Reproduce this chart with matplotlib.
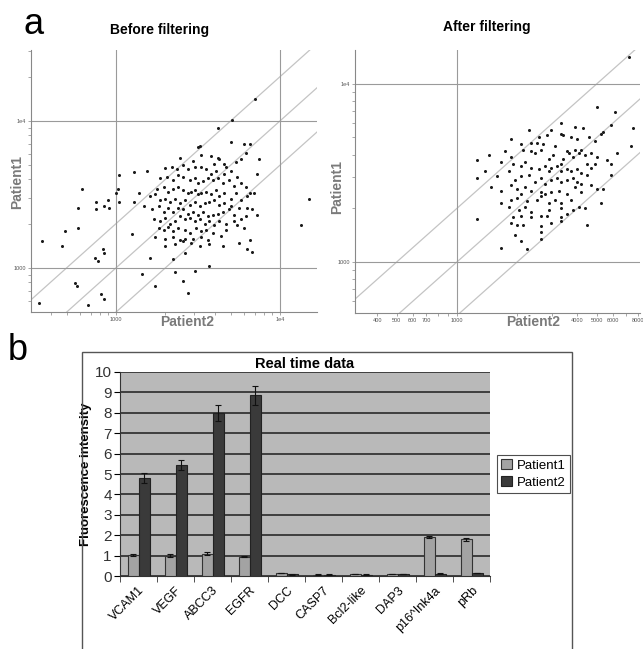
import numpy as np
import matplotlib
matplotlib.use("Agg")
import matplotlib.pyplot as plt
from matplotlib.patches import Rectangle
from matplotlib.ticker import FixedLocator, NullFormatter, LogLocator

plt.rcParams['font.family'] = ['Liberation Sans', 'DejaVu Sans']

# ---- panel a: log10 intensities ----
before_p2 = [3.51, 3.50, 3.70, 3.78, 3.19, 3.39, 3.47, 3.52, 3.58, 3.62, 3.63, 3.60, 3.66, 3.67, 3.73, 3.76, 3.79, 3.82, 3.87, 3.86,
             3.30, 3.34, 3.37, 3.41, 3.44, 3.48, 3.52, 3.55, 3.58, 3.61, 3.66, 3.70, 3.74, 3.76, 3.79, 3.82,
             3.27, 3.31, 3.35, 3.38, 3.41, 3.45, 3.48, 3.50, 3.53, 3.56, 3.59, 3.62, 3.65, 3.69, 3.72,
             3.25, 3.29, 3.32, 3.35, 3.38, 3.41, 3.44, 3.46, 3.48, 3.50, 3.52, 3.55, 3.58, 3.61, 3.63, 3.66, 3.70, 3.73, 3.76, 3.80, 3.84,
             3.21, 3.24, 3.27, 3.30, 3.33, 3.36, 3.39, 3.42, 3.45, 3.48, 3.51, 3.54, 3.57, 3.60, 3.63, 3.66, 3.70, 3.75, 3.80, 3.83, 3.86,
             3.17, 3.22, 3.26, 3.29, 3.32, 3.35, 3.38, 3.41, 3.44, 3.47, 3.50, 3.53, 3.56, 3.59, 3.62, 3.65, 3.69, 3.72, 3.76,
             3.23, 3.27, 3.30, 3.33, 3.36, 3.39, 3.42, 3.45, 3.48, 3.51, 3.54, 3.57, 3.60, 3.63, 3.67, 3.72, 3.79,
             3.26, 3.29, 3.32, 3.35, 3.38, 3.42, 3.45, 3.49, 3.52, 3.55, 3.59, 3.64, 3.74, 3.78,
             3.24, 3.30, 3.35, 3.39, 3.42, 3.47, 3.52, 3.56, 3.67, 3.75, 3.82,
             3.30, 3.36, 3.41, 3.46, 3.51, 3.57, 3.65, 3.80,
             3.85, 3.71, 3.62, 4.18, 4.13, 2.79, 2.77, 2.88, 2.88, 2.95, 2.93, 2.96, 3.01, 3.00, 3.02, 3.02, 3.11, 3.11, 3.14,
             2.77, 2.69, 2.67, 2.55, 2.92, 2.93, 2.87, 2.89, 3.10, 3.21, 3.16, 3.24, 2.75, 2.76, 2.53, 2.83, 2.91, 2.93,
             3.35, 3.36, 3.41, 3.44, 3.48, 3.57, 3.42, 3.83]
before_p1 = [3.83, 3.82, 3.86, 3.84, 3.66, 3.75, 3.73, 3.77, 3.76, 3.75, 3.74, 3.71, 3.71, 3.69, 3.72, 3.74, 3.78, 3.84, 3.74, 3.64,
             3.68, 3.69, 3.67, 3.70, 3.67, 3.69, 3.69, 3.67, 3.64, 3.66, 3.64, 3.66, 3.62, 3.58, 3.55, 3.51,
             3.61, 3.62, 3.60, 3.63, 3.62, 3.60, 3.61, 3.58, 3.59, 3.61, 3.60, 3.61, 3.58, 3.60, 3.56,
             3.54, 3.55, 3.52, 3.54, 3.55, 3.53, 3.51, 3.52, 3.53, 3.50, 3.51, 3.52, 3.50, 3.53, 3.49, 3.51, 3.47, 3.51, 3.46, 3.49, 3.51,
             3.49, 3.50, 3.46, 3.47, 3.45, 3.47, 3.44, 3.46, 3.43, 3.45, 3.42, 3.44, 3.45, 3.46, 3.43, 3.44, 3.42, 3.41, 3.41, 3.40, 3.36,
             3.42, 3.40, 3.42, 3.38, 3.41, 3.38, 3.41, 3.40, 3.37, 3.38, 3.36, 3.38, 3.35, 3.36, 3.37, 3.38, 3.40, 3.36, 3.33,
             3.33, 3.32, 3.34, 3.30, 3.32, 3.35, 3.33, 3.34, 3.32, 3.33, 3.30, 3.32, 3.29, 3.32, 3.30, 3.32, 3.35,
             3.27, 3.26, 3.28, 3.25, 3.27, 3.26, 3.24, 3.27, 3.25, 3.26, 3.24, 3.22, 3.29, 3.27,
             3.21, 3.20, 3.21, 3.19, 3.20, 3.20, 3.21, 3.19, 3.26, 3.17, 3.19,
             3.15, 3.16, 3.18, 3.17, 3.15, 3.16, 3.15, 3.13,
             4.15, 4.01, 3.95, 3.47, 3.29, 3.54, 3.41, 3.45, 3.40, 3.46, 3.42, 3.41, 3.54, 3.51, 3.63, 3.45, 3.65, 3.45, 3.51,
             3.27, 3.25, 3.15, 3.18, 3.13, 3.10, 3.07, 3.05, 3.23, 3.07, 2.96, 2.88, 2.90, 2.88, 2.76, 2.75, 2.82, 2.79,
             3.06, 2.97, 2.91, 2.83, 2.98, 3.01, 3.10, 3.11]

after_p2 = [3.70, 3.79, 3.88, 3.87, 3.52, 3.59, 3.63, 3.66, 3.69, 3.72, 3.73, 3.77,
            3.36, 3.41, 3.45, 3.47, 3.52, 3.53, 3.57, 3.60,
            3.27, 3.32, 3.37, 3.40, 3.43, 3.49, 3.55, 3.59, 3.62, 3.64, 3.67, 3.70, 3.75, 3.77, 3.80,
            3.24, 3.27, 3.33, 3.37, 3.39, 3.42, 3.46, 3.48, 3.52, 3.53, 3.56, 3.58, 3.61, 3.65, 3.69,
            3.10, 3.16, 3.14, 3.10, 3.22, 3.28, 3.32, 3.34, 3.37, 3.41, 3.44, 3.46, 3.47, 3.50, 3.52, 3.55, 3.57, 3.60, 3.62, 3.65, 3.67, 3.77,
            3.20, 3.26, 3.29, 3.32, 3.36, 3.39, 3.42, 3.44, 3.47, 3.50, 3.52, 3.55, 3.58, 3.60, 3.62, 3.67, 3.70, 3.73,
            3.17, 3.22, 3.27, 3.30, 3.34, 3.37, 3.42, 3.44, 3.47, 3.51, 3.55, 3.59, 3.62,
            3.22, 3.27, 3.30, 3.32, 3.35, 3.40, 3.42, 3.46, 3.49, 3.52, 3.57, 3.61, 3.64, 3.72,
            3.26, 3.31, 3.34, 3.37, 3.42, 3.46, 3.52, 3.55, 3.58,
            3.28, 3.32, 3.37, 3.45, 3.52,
            3.10, 3.27, 3.30, 3.33, 3.42, 3.47, 3.52, 3.65,
            3.42, 3.29, 3.32, 3.42, 3.35, 3.22, 3.86]
after_p1 = [3.87, 3.84, 3.75, 3.65, 3.78, 3.76, 3.75, 3.70, 3.68, 3.72, 3.73, 3.77,
            3.74, 3.70, 3.71, 3.74, 3.72, 3.71, 3.70, 3.69,
            3.69, 3.66, 3.67, 3.67, 3.66, 3.65, 3.62, 3.63, 3.63, 3.60, 3.61, 3.59, 3.57, 3.55, 3.61,
            3.62, 3.59, 3.63, 3.62, 3.61, 3.63, 3.58, 3.60, 3.55, 3.58, 3.61, 3.59, 3.61, 3.55, 3.55,
            3.57, 3.60, 3.51, 3.47, 3.56, 3.55, 3.54, 3.56, 3.53, 3.52, 3.54, 3.51, 3.53, 3.54, 3.51, 3.52, 3.51, 3.52, 3.50, 3.49, 3.53, 3.49,
            3.48, 3.51, 3.46, 3.48, 3.49, 3.45, 3.47, 3.44, 3.46, 3.47, 3.45, 3.46, 3.47, 3.45, 3.44, 3.43, 3.41, 3.41,
            3.42, 3.40, 3.43, 3.41, 3.42, 3.40, 3.39, 3.38, 3.39, 3.40, 3.38, 3.42, 3.39,
            3.33, 3.35, 3.36, 3.38, 3.34, 3.35, 3.37, 3.33, 3.35, 3.33, 3.35, 3.31, 3.30, 3.33,
            3.31, 3.29, 3.31, 3.28, 3.26, 3.29, 3.30, 3.27, 3.29,
            3.25, 3.26, 3.25, 3.26, 3.25,
            3.24, 3.22, 3.21, 3.21, 3.20, 3.22, 3.23, 3.21,
            3.17, 3.15, 3.12, 3.13, 3.07, 3.08, 4.15]

ratio_lines = [2.0, 1.0, 0.5]

# ---- panel b: real time data ----
genes = ["VCAM1", "VEGF", "ABCC3", "EGFR", "DCC", "CASP7", "Bcl2-like", "DAP3", "p16^Ink4a", "pRb"]
patient1 = [1.05, 1.0, 1.1, 0.95, 0.15, 0.07, 0.1, 0.1, 1.9, 1.8]
patient1_err = [0.05, 0.06, 0.07, 0.03, 0.02, 0.01, 0.01, 0.01, 0.05, 0.07]
patient2 = [4.8, 5.45, 8.0, 8.85, 0.08, 0.07, 0.07, 0.1, 0.12, 0.15]
patient2_err = [0.25, 0.25, 0.4, 0.45, 0.01, 0.01, 0.01, 0.01, 0.01, 0.01]

W, H = 643, 649
fig = plt.figure(figsize=(W / 100, H / 100), dpi=100)


def fx(px):
    return px / W


def fy(py):
    return 1 - py / H


def scatter_panel(rect, xs, ys, xlim, ylim, xgrid, ygrid, xticks, xlabels, yticks, ylabels):
    ax = fig.add_axes(rect)
    ax.set_xscale("log")
    ax.set_yscale("log")
    ax.set_xlim(10 ** xlim[0], 10 ** xlim[1])
    ax.set_ylim(10 ** ylim[0], 10 ** ylim[1])
    xx = np.logspace(xlim[0] - 1, xlim[1] + 1, 50)
    for r in ratio_lines:
        ax.plot(xx, r * xx, color="#c4c4c4", lw=0.9, zorder=1)
    for g in xgrid:
        ax.axvline(g, color="#9a9a9a", lw=0.8, zorder=1)
    for g in ygrid:
        ax.axhline(g, color="#9a9a9a", lw=0.8, zorder=1)
    ax.plot(10 ** np.array(xs), 10 ** np.array(ys), "o", ms=2.2, color="#1a1a1a", mec="none", zorder=3)
    for s in ["top", "right"]:
        ax.spines[s].set_visible(False)
    for s in ["left", "bottom"]:
        ax.spines[s].set_color("#888888")
    ax.xaxis.set_major_locator(FixedLocator(xticks))
    ax.set_xticklabels(xlabels)
    ax.yaxis.set_major_locator(FixedLocator(yticks))
    ax.set_yticklabels(ylabels)
    ax.xaxis.set_minor_locator(LogLocator(subs=np.arange(2, 10)))
    ax.xaxis.set_minor_formatter(NullFormatter())
    ax.yaxis.set_minor_locator(LogLocator(subs=np.arange(2, 10)))
    ax.yaxis.set_minor_formatter(NullFormatter())
    ax.tick_params(which="both", length=2, width=0.6, color="#999999", labelsize=4, labelcolor="#555555", pad=1.5)
    return ax


scatter_panel([fx(31), fy(312), fx(317) - fx(31), fy(50) - fy(312)],
              before_p2, before_p1, (2.482, 4.226), (2.70, 4.483),
              [1000, 10000], [1000, 10000],
              [1000, 10000], ["1000", "1e4"], [1000, 10000], ["1000", "1e4"])
scatter_panel([fx(355), fy(313), fx(640) - fx(355), fy(50) - fy(313)],
              after_p2, after_p1, (2.49, 3.915), (2.713, 4.19),
              [1000], [1000, 10000],
              [400, 500, 600, 700, 1000, 4000, 5000, 6000, 8000],
              ["400", "500", "600", "700", "1000", "4000", "5000", "6000", "8000"],
              [1000, 10000], ["1000", "1e4"])

fig.text(fx(34), fy(24), "a", fontsize=26, ha="center", va="center")
fig.text(fx(160), fy(30), "Before filtering", fontsize=10, fontweight="bold", ha="center", va="center")
fig.text(fx(487), fy(27), "After filtering", fontsize=10, fontweight="bold", ha="center", va="center")
for x, y in [(187, 322), (533, 322)]:
    fig.text(fx(x), fy(y), "Patient2", fontsize=10, fontweight="bold", color="#7a7a7a", ha="center", va="center")
for x, y in [(17, 182), (337, 187)]:
    fig.text(fx(x), fy(y), "Patient1", fontsize=10, fontweight="bold", color="#7a7a7a",
             ha="center", va="center", rotation=90)

# ---- panel b ----
fig.text(fx(18), fy(350), "b", fontsize=26, ha="center", va="center")
fig.patches.append(Rectangle((fx(82), fy(660)), fx(572) - fx(82), fy(352) - fy(660),
                             transform=fig.transFigure, fill=False, ec="#555555", lw=1.0))

ax = fig.add_axes([fx(120), fy(576), fx(490) - fx(120), fy(372) - fy(576)])
ax.set_facecolor("#b9b9b9")
x = np.arange(len(genes))
bw = 0.3
ax.bar(x - 0.14, patient1, bw, yerr=patient1_err, color="#a3a3a3", edgecolor="#333333", lw=0.8,
       capsize=2, error_kw=dict(lw=0.8, capthick=0.8, ecolor="#111111"), label="Patient1", zorder=3)
ax.bar(x + 0.16, patient2, bw, yerr=patient2_err, color="#3a3a3a", edgecolor="#222222", lw=0.8,
       capsize=2, error_kw=dict(lw=0.8, capthick=0.8, ecolor="#111111"), label="Patient2", zorder=3)
ax.set_xlim(-0.5, len(genes) - 0.5)
ax.set_ylim(0, 10)
ax.set_yticks(range(0, 11))
ax.yaxis.grid(True, color="#2a2a2a", lw=1.2, zorder=1)
ax.set_axisbelow(True)
for s in ["top", "right"]:
    ax.spines[s].set_visible(False)
ax.spines["left"].set_color("#333333")
ax.spines["bottom"].set_color("#333333")
ax.set_xticks(x)
ax.set_xticklabels(genes, rotation=45, ha="right", rotation_mode="anchor", fontsize=9)
ax.set_xticks(np.arange(-0.5, len(genes)), minor=True)
ax.tick_params(axis="x", which="major", length=0, pad=6)
ax.tick_params(axis="x", which="minor", length=4, color="#333333")
ax.tick_params(axis="y", length=4, labelsize=11, labelcolor="#333333", pad=2)
ax.set_ylabel("Fluorescence intensity", fontsize=9.5, fontweight="bold", labelpad=2)
ax.set_title("Real time data", fontsize=10.5, fontweight="bold", pad=3)
leg = ax.legend(loc="center left", bbox_to_anchor=(1.02, 0.5), fontsize=9.5, frameon=True,
                fancybox=False, edgecolor="#222222", handlelength=0.8, handleheight=0.8,
                handletextpad=0.4, borderpad=0.3, labelspacing=0.3, borderaxespad=0)
leg.get_frame().set_linewidth(0.8)

fig.savefig("out.png", dpi=100)
